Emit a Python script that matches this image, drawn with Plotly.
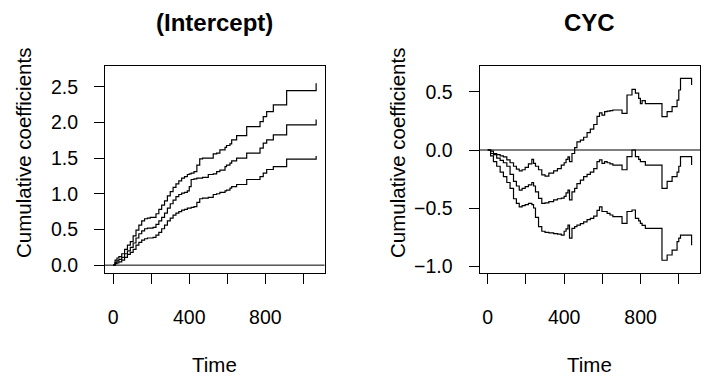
import plotly.graph_objects as go

# ---------------- data ----------------
# (Intercept) panel: event times and cumulative coefficient (estimate + bands)
int_time = [0, 10, 20, 30, 45, 60, 75, 90, 105, 120, 135, 150, 165, 180, 195, 210,
            225, 240, 255, 270, 285, 300, 315, 330, 345, 360, 375, 390, 400, 410,
            425, 440, 455, 470, 500, 526, 544, 561, 588, 596, 614, 623, 649, 702,
            772, 789, 807, 842, 912, 1067]
int_upper = [0, 0.07, 0.10, 0.12, 0.16, 0.22, 0.28, 0.33, 0.41, 0.49, 0.56, 0.62, 0.65,
             0.66, 0.67, 0.67, 0.72, 0.78, 0.84, 0.90, 0.97, 1.03, 1.09, 1.14, 1.18,
             1.22, 1.24, 1.27, 1.28, 1.29, 1.31, 1.40, 1.49, 1.50, 1.50, 1.56, 1.57,
             1.615, 1.65, 1.676, 1.70, 1.755, 1.815, 1.94, 2.01, 2.08, 2.15, 2.244,
             2.444, 2.547]
int_est = [0, 0.04, 0.06, 0.08, 0.11, 0.16, 0.20, 0.25, 0.31, 0.38, 0.44, 0.48, 0.51,
           0.52, 0.52, 0.53, 0.57, 0.62, 0.67, 0.73, 0.80, 0.86, 0.91, 0.96, 0.99,
           1.01, 1.02, 1.04, 1.10, 1.20, 1.21, 1.22, 1.22, 1.23, 1.27, 1.28, 1.31,
           1.33, 1.38, 1.40, 1.43, 1.46, 1.50, 1.57, 1.64, 1.71, 1.755, 1.825,
           1.965, 2.04]
int_lower = [0, 0.02, 0.03, 0.045, 0.07, 0.11, 0.15, 0.18, 0.22, 0.28, 0.32, 0.35, 0.37,
             0.38, 0.38, 0.39, 0.42, 0.46, 0.51, 0.56, 0.62, 0.66, 0.70, 0.73, 0.75,
             0.77, 0.78, 0.80, 0.80, 0.81, 0.82, 0.88, 0.93, 0.94, 0.95, 0.99, 1.00,
             1.02, 1.04, 1.05, 1.08, 1.10, 1.13, 1.20, 1.24, 1.29, 1.34, 1.38,
             1.485, 1.53]

# CYC panel
cyc_time = [0, 15, 30, 47, 65, 82, 100, 117, 135, 150, 165, 180, 196, 213, 231, 240,
            250, 266, 283, 300, 320, 345, 365, 385, 400, 410, 420, 428, 441, 455,
            467, 485, 502, 520, 537, 555, 572, 585, 598, 612, 625, 640, 655, 703,
            729, 755, 773, 790, 799, 808, 825, 912, 939, 965, 991, 1000, 1009, 1067]
cyc_upper = [0, -0.01, -0.03, -0.04, -0.05, -0.06, -0.085, -0.11, -0.14, -0.165, -0.18,
             -0.17, -0.15, -0.12, -0.08, -0.115, -0.14, -0.17, -0.215, -0.225, -0.20,
             -0.18, -0.16, -0.13, -0.11, -0.08, -0.06, -0.10, -0.03, 0.02, 0.07,
             0.086, 0.11, 0.15, 0.18, 0.22, 0.29, 0.32, 0.30, 0.33, 0.335, 0.34,
             0.345, 0.316, 0.474, 0.523, 0.49, 0.445, 0.40, 0.425, 0.40, 0.287,
             0.33, 0.374, 0.43, 0.517, 0.618, 0.56]
cyc_est = [0, -0.03, -0.04, -0.07, -0.09, -0.11, -0.14, -0.21, -0.27, -0.31, -0.345,
           -0.33, -0.316, -0.30, -0.28, -0.31, -0.36, -0.417, -0.46, -0.455, -0.445,
           -0.43, -0.42, -0.415, -0.40, -0.37, -0.345, -0.43, -0.36, -0.33, -0.29,
           -0.26, -0.23, -0.21, -0.19, -0.16, -0.10, -0.085, -0.115, -0.10, -0.11,
           -0.12, -0.13, -0.17, -0.057, 0.0, -0.057, -0.08, -0.10, -0.10, -0.13,
           -0.33, -0.27, -0.23, -0.19, -0.14, -0.057, -0.13]
cyc_lower = [0, -0.05, -0.10, -0.14, -0.19, -0.23, -0.28, -0.33, -0.42, -0.46, -0.49,
             -0.48, -0.47, -0.46, -0.47, -0.50, -0.58, -0.66, -0.70, -0.71, -0.715,
             -0.72, -0.725, -0.733, -0.70, -0.68, -0.647, -0.76, -0.675, -0.66,
             -0.647, -0.635, -0.62, -0.60, -0.59, -0.57, -0.52, -0.49, -0.53, -0.53,
             -0.546, -0.56, -0.575, -0.632, -0.53, -0.517, -0.59, -0.61, -0.632,
             -0.65, -0.675, -0.95, -0.905, -0.862, -0.79, -0.76, -0.733, -0.82]

titles = ["(Intercept)", "CYC"]
x_label = "Time"
y_label = "Cumulative coefficients"
x_tickvals = [0, 200, 400, 600, 800, 1000]
x_ticktext = ["0", "", "400", "", "800", ""]
int_tickvals = [0, 0.5, 1.0, 1.5, 2.0, 2.5]
int_ticktext = ["0.0", "0.5", "1.0", "1.5", "2.0", "2.5"]
cyc_tickvals = [-1.0, -0.5, 0.0, 0.5]
cyc_ticktext = ["\u22121.0", "\u22120.5", "0.0", "0.5"]

# ---------------- figure ----------------
W, H = 704, 377
FONT = "Liberation Sans, Arial, Helvetica, sans-serif"
line_style = dict(color="black", width=1.2, shape="hv")

fig = go.Figure()
for ys in (int_upper, int_est, int_lower):
    fig.add_trace(go.Scatter(x=int_time, y=ys, mode="lines", line=line_style,
                             xaxis="x", yaxis="y", showlegend=False, hoverinfo="skip"))
for ys in (cyc_upper, cyc_est, cyc_lower):
    fig.add_trace(go.Scatter(x=cyc_time, y=ys, mode="lines", line=line_style,
                             xaxis="x2", yaxis="y2", showlegend=False, hoverinfo="skip"))

left_dom = [105 / W, 324.5 / W]
right_dom = [479.5 / W, 700 / W]
y_dom = [1 - 273 / H, 1 - 66 / H]

common_x = dict(range=[-43, 1111], tickmode="array", tickvals=x_tickvals,
                ticktext=x_ticktext, ticks="outside", ticklen=10, tickwidth=1,
                tickcolor="black", showline=True, linecolor="black", linewidth=1,
                mirror=True, showgrid=False, zeroline=False, automargin=False,
                ticklabelstandoff=17,
                tickfont=dict(family=FONT, size=19.5, color="black"))
common_y = dict(tickmode="array", ticks="outside", ticklen=10, tickwidth=1,
                tickcolor="black", showline=True, linecolor="black", linewidth=1,
                mirror=True, showgrid=False, zeroline=False, automargin=False,
                ticklabelstandoff=12,
                tickfont=dict(family=FONT, size=19.5, color="black"))

fig.update_layout(
    width=W, height=H,
    margin=dict(l=0, r=0, t=0, b=0),
    paper_bgcolor="white", plot_bgcolor="white",
    xaxis=dict(domain=left_dom, anchor="y", **common_x),
    yaxis=dict(domain=y_dom, anchor="x", range=[-0.11, 2.79],
               tickvals=int_tickvals, ticktext=int_ticktext, **common_y),
    xaxis2=dict(domain=right_dom, anchor="y2", **common_x),
    yaxis2=dict(domain=y_dom, anchor="x2", range=[-1.06, 0.724],
                tickvals=cyc_tickvals, ticktext=cyc_ticktext, **common_y),
)

# horizontal reference line at zero
for xr, yr in (("x domain", "y"), ("x2 domain", "y2")):
    fig.add_shape(type="line", xref=xr, yref=yr, x0=0, x1=1, y0=0, y1=0,
                  line=dict(color="black", width=1))

annotations = []
for dom, title in ((left_dom, titles[0]), (right_dom, titles[1])):
    cx = (dom[0] + dom[1]) / 2
    annotations.append(dict(text="<b>%s</b>" % title, x=cx, y=1 - 23 / H,
                            xref="paper", yref="paper", showarrow=False,
                            xanchor="center", yanchor="middle",
                            font=dict(family=FONT, size=24, color="black")))
    annotations.append(dict(text=x_label, x=cx, y=1 - 364 / H,
                            xref="paper", yref="paper", showarrow=False,
                            xanchor="center", yanchor="middle",
                            font=dict(family=FONT, size=20.5, color="black")))
for px in (23, 397):
    annotations.append(dict(text=y_label, x=px / W, y=1 - 153 / H,
                            xref="paper", yref="paper", showarrow=False,
                            xanchor="center", yanchor="middle", textangle=-90,
                            font=dict(family=FONT, size=20.5, color="black")))
fig.update_layout(annotations=annotations)

fig.write_html(
    "out.html",
    config={"displayModeBar": False, "staticPlot": True},
    post_script="document.body.style.margin='0';document.body.style.overflow='hidden';",
)
